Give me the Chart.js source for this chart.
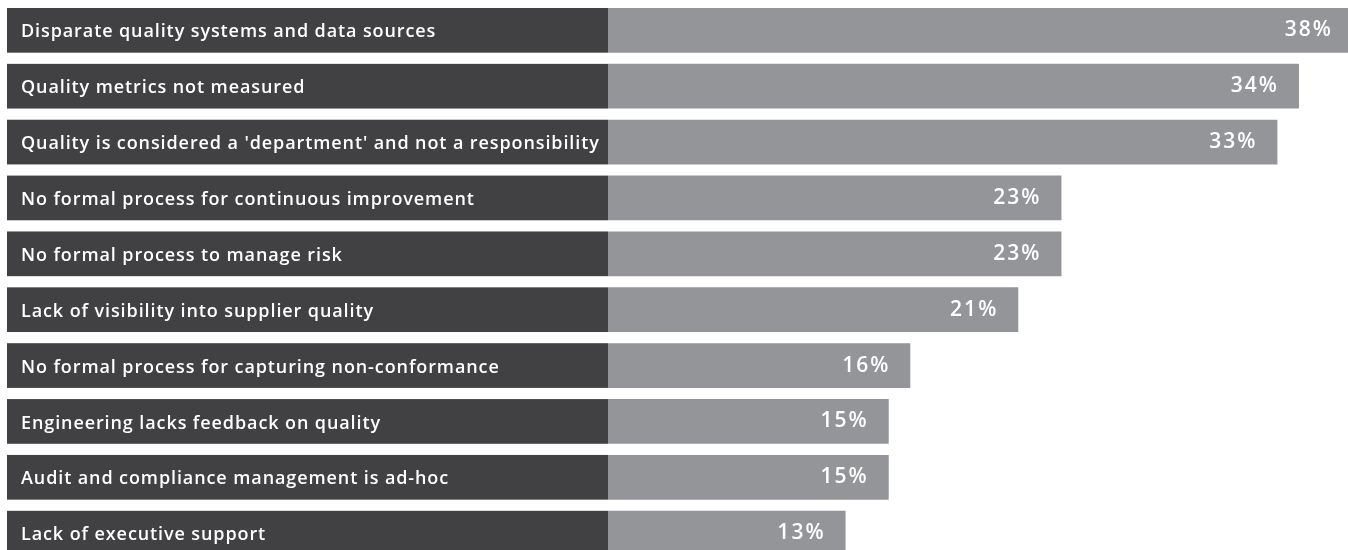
<!DOCTYPE html>
<html>
<head>
<meta charset="utf-8">
<script src="https://cdn.jsdelivr.net/npm/chart.js@4/dist/chart.umd.min.js"></script>
<style>
  html, body { margin: 0; padding: 0; background: #fff; overflow: hidden; }
  #wrap { position: relative; width: 1348px; height: 562px; }
</style>
</head>
<body>
<div id="wrap"><canvas id="chart"></canvas></div>
<script>
// Survey: top quality management challenges (share of respondents, %)
const categories = [
  "Disparate quality systems and data sources",
  "Quality metrics not measured",
  "Quality is considered a 'department' and not a responsibility",
  "No formal process for continuous improvement",
  "No formal process to manage risk",
  "Lack of visibility into supplier quality",
  "No formal process for capturing non-conformance",
  "Engineering lacks feedback on quality",
  "Audit and compliance management is ad-hoc",
  "Lack of executive support",
];
const shares = [38, 34, 33, 23, 23, 21, 16, 15, 15, 13];

const COLORS = {
  label: "#414042",
  bar: "#939598",
  text: "#ffffff",
};

const LABEL_SHIFT = 2; // nudge category labels down a touch

// dark label boxes behind the y-axis ticks, value labels at bar ends
const labelBoxes = {
  id: "labelBoxes",
  beforeDraw(chart) {
    const { ctx } = chart;
    const yScale = chart.scales.y;
    const meta = chart.getDatasetMeta(0);
    ctx.save();
    ctx.fillStyle = COLORS.label;
    meta.data.forEach((bar) => {
      const top = bar.y - bar.height / 2;
      ctx.fillRect(yScale.left - 14, top, chart.chartArea.left - (yScale.left - 14), bar.height);
    });
    ctx.restore();
    // wider tracking for the category labels (Raleway-like spacing)
    if ("letterSpacing" in ctx) ctx.letterSpacing = "0.9px";
    ctx.translate(0, LABEL_SHIFT);
  },
  beforeDatasetsDraw(chart) {
    const { ctx } = chart;
    ctx.translate(0, -LABEL_SHIFT);
    if ("letterSpacing" in ctx) ctx.letterSpacing = "0px";
  },
  afterDatasetsDraw(chart) {
    const { ctx, chartArea } = chart;
    const meta = chart.getDatasetMeta(0);
    ctx.save();
    ctx.fillStyle = COLORS.text;
    ctx.font = "600 21px 'Open Sans'";
    ctx.textAlign = "right";
    ctx.textBaseline = "middle";
    if ("letterSpacing" in ctx) ctx.letterSpacing = "2px";
    meta.data.forEach((bar, i) => {
      const end = Math.min(bar.x, chartArea.right + 5);
      ctx.fillText(shares[i] + "%", end - 20, bar.y);
    });
    ctx.restore();
  },
};

new Chart(document.getElementById("chart"), {
  type: "bar",
  data: {
    labels: categories,
    datasets: [
      {
        data: shares,
        backgroundColor: COLORS.bar,
        borderWidth: 0,
        barPercentage: 0.8,
        categoryPercentage: 1,
      },
    ],
  },
  options: {
    indexAxis: "y",
    responsive: true,
    maintainAspectRatio: false,
    animation: false,
    events: [],
    layout: { padding: { left: 21, top: 2.4, right: 0, bottom: 0 } },
    plugins: { legend: { display: false }, tooltip: { enabled: false } },
    scales: {
      x: { display: false, min: 2, max: 36.27 },
      y: {
        grid: { display: false },
        border: { display: false },
        afterFit(scale) { scale.width = 587; },
        ticks: {
          crossAlign: "far",
          color: COLORS.text,
          font: { family: "'Open Sans'", size: 18, weight: "600", lineHeight: 0.1 },
          padding: 0,
        },
      },
    },
  },
  plugins: [labelBoxes],
});
</script>
</body>
</html>
